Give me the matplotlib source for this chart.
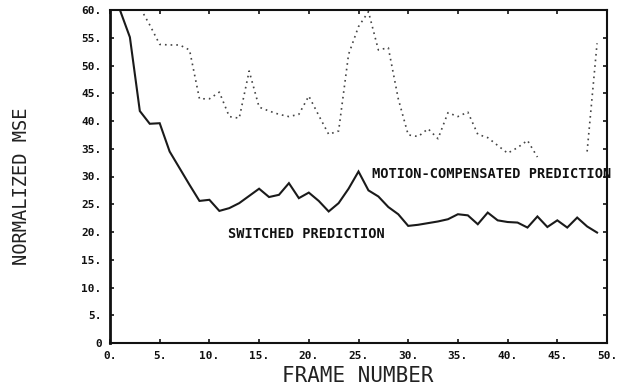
import numpy as np
import matplotlib
matplotlib.use("Agg")
import matplotlib.pyplot as plt

# Switched prediction (solid)
sw_frames = list(range(1, 50))
sw_mse = [60.0, 55.1, 41.8, 39.5, 39.6, 34.5, 31.5, 28.5, 25.6, 25.8,
          23.8, 24.3, 25.2, 26.5, 27.8, 26.3, 26.7, 28.8, 26.1, 27.1,
          25.6, 23.7, 25.2, 27.8, 30.9, 27.5, 26.4, 24.5, 23.2, 21.1,
          21.3, 21.6, 21.9, 22.3, 23.2, 23.0, 21.4, 23.5, 22.1, 21.8,
          21.7, 20.8, 22.8, 20.9, 22.1, 20.8, 22.6, 21.0, 19.9]

# Motion-compensated prediction (dotted; faded part of print left as gap)
mc_frames = [2, 3, 4, 5, 6, 7, 8, 9, 10, 11, 12, 13, 14, 15, 16, 17, 18, 19, 20,
             21, 22, 23, 24, 25, 26, 27, 28, 29, 30, 31, 32, 33, 34, 35, 36,
             37, 38, 39, 40, 41, 42, 43, 44, 47, 48, 49]
mc_mse = [64.0, 60.5, 57.3, 53.8, 53.7, 53.7, 52.8, 44.0, 44.0, 45.2, 40.8,
          40.5, 49.0, 42.5, 41.8, 41.2, 40.8, 41.2, 44.5, 41.0, 37.6, 38.2,
          52.0, 57.0, 59.7, 52.8, 53.2, 44.0, 37.5, 37.2, 38.6, 36.8, 41.5,
          40.8, 41.6, 37.6, 37.0, 35.6, 34.2, 35.2, 36.5, 33.5, np.nan,
          np.nan, 34.5, 54.0]

x_ticks = [0, 5, 10, 15, 20, 25, 30, 35, 40, 45, 50]
x_tick_labels = ["0.", "5.", "10.", "15.", "20.", "25.", "30.", "35.", "40.", "45.", "50."]
y_ticks = [0, 5, 10, 15, 20, 25, 30, 35, 40, 45, 50, 55, 60]
y_tick_labels = ["0", "5.", "10.", "15.", "20.", "25.", "30.", "35.", "40.", "45.", "50.", "55.", "60."]

fig = plt.figure(figsize=(6.21, 3.87), dpi=100)
ax = fig.add_axes([110/621, 44/387, 497/621, 333/387])

ax.plot(sw_frames, sw_mse, color="#1a1a1a", lw=1.5, solid_joinstyle="miter", clip_on=True)
ax.plot(mc_frames, mc_mse, color="#444444", lw=1.2, linestyle=(0, (1, 2.4)), clip_on=True)

ax.set_xlim(0, 50)
ax.set_ylim(0, 60)
ax.set_xticks(x_ticks)
ax.set_xticklabels(x_tick_labels)
ax.set_yticks(y_ticks)
ax.set_yticklabels(y_tick_labels)

mono = "DejaVu Sans Mono"
for lab in ax.get_xticklabels() + ax.get_yticklabels():
    lab.set_fontfamily(mono)
    lab.set_fontweight("bold")
    lab.set_fontsize(8)
ax.tick_params(axis="both", direction="in", length=3, width=1.2,
               top=True, right=True, colors="#111111")
ax.tick_params(axis="x", pad=6)
ax.tick_params(axis="y", pad=6)

for side in ["left", "bottom", "right", "top"]:
    ax.spines[side].set_color("#111111")
ax.spines["left"].set_linewidth(2.0)
ax.spines["bottom"].set_linewidth(1.5)
ax.spines["right"].set_linewidth(1.5)
ax.spines["top"].set_linewidth(1.5)

fig.text(22/621, 1 - 186/387, "NORMALIZED MSE", rotation=90, ha="center", va="center",
         fontfamily=mono, fontsize=13.5, color="#222222")
fig.text(358/621, 1 - 376/387, "FRAME NUMBER", ha="center", va="center",
         fontfamily=mono, fontsize=15, color="#222222")

ax.text(26.4, 30.5, "MOTION-COMPENSATED PREDICTION", ha="left", va="center",
        fontfamily=mono, fontweight="bold", fontsize=9.8, color="#111111", clip_on=False)
ax.text(11.9, 19.6, "SWITCHED PREDICTION", ha="left", va="center",
        fontfamily=mono, fontweight="bold", fontsize=9.8, color="#111111")

fig.savefig("out.png", dpi=100, facecolor="white")
